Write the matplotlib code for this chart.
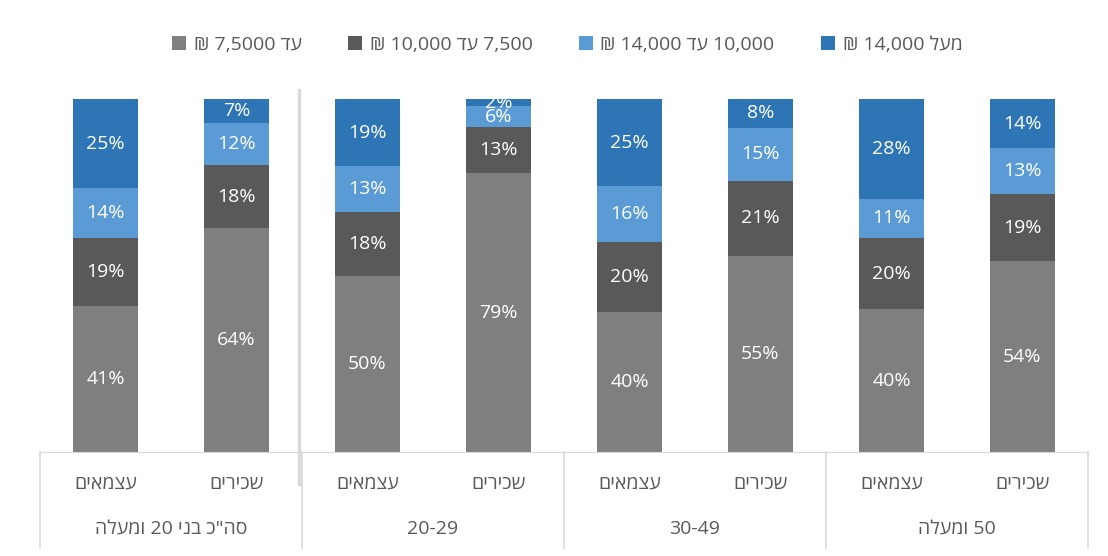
import numpy as np
import matplotlib
matplotlib.use("Agg")
import matplotlib.pyplot as plt
import matplotlib.transforms as mtransforms

plt.rcParams['font.family'] = ['Open Sans', 'DejaVu Sans']

# =============================================================================
# DATA  (Hebrew strings are stored in visual order, since matplotlib has no bidi)
# =============================================================================
sub_labels = ['םיאמצע', 'םיריכש'] * 4
group_labels = ['הלעמו 20 ינב כ"הס', '20-29', '30-49', 'הלעמו 50']
series_names = ['₪ 7,5000 דע', '₪ 10,000 דע 7,500', '₪ 14,000 דע 10,000', '₪ 14,000 לעמ']
series_colors = ['#7f7f7f', '#595959', '#5b9bd5', '#2e75b6']

upto_7500 = [41, 64, 50, 79, 40, 55, 40, 54]
r7500_10000 = [19, 18, 18, 13, 20, 21, 20, 19]
r10000_14000 = [14, 12, 13, 6, 16, 15, 11, 13]
over_14000 = [25, 7, 19, 2, 25, 8, 28, 14]

series = np.array([upto_7500, r7500_10000, r10000_14000, over_14000], dtype=float)
shares = series / series.sum(axis=0)  # 100% stacked

FS = 14

# =============================================================================
# PLOT
# =============================================================================
fig = plt.figure(figsize=(11.08, 5.56), dpi=100)
ax = fig.add_axes([40 / 1108, (556 - 452) / 556, 1048 / 1108, 353 / 556])

x = np.arange(len(sub_labels))
bottom = np.zeros(len(x))
for vals, pct, name, col in zip(shares, series, series_names, series_colors):
    ax.bar(x, vals, bottom=bottom, width=0.5, color=col, label=name)
    for xi, b, v, p in zip(x, bottom, vals, pct):
        ax.text(xi, b + v / 2, f'{p:.0f}%', ha='center', va='center',
                color='white', fontsize=FS)
    bottom += vals

ax.set_xlim(-0.5, 7.5)
ax.set_ylim(0, 1)
ax.set_xticks([])
ax.set_yticks([])
for s in ['top', 'right', 'left']:
    ax.spines[s].set_visible(False)
ax.spines['bottom'].set_color('#d9d9d9')

# category labels below the axis
trans = mtransforms.blended_transform_factory(ax.transData, fig.transFigure)
for xi, lab in zip(x, sub_labels):
    ax.text(xi, 1 - 484 / 556, lab, transform=trans, ha='center', va='center',
            color='#595959', fontsize=FS)
for g, lab in enumerate(group_labels):
    ax.text(2 * g + 0.5, 1 - 529 / 556, lab, transform=trans, ha='center',
            va='center', color='#595959', fontsize=FS)

# group separators
for sx in [-0.5, 1.5, 3.5, 5.5, 7.5]:
    ax.plot([sx, sx], [1 - 452 / 556, 1 - 548 / 556], transform=trans,
            color='#d9d9d9', lw=1.2, clip_on=False)
# line splitting the total from the age groups
ax.plot([1.48, 1.48], [1 - 90 / 556, 1 - 484 / 556], transform=trans,
        color='#d9d9d9', lw=2.5, clip_on=False)

fig.legend(loc='center', bbox_to_anchor=(0.512, 1 - 45 / 556), ncol=4,
           frameon=False, fontsize=FS, labelcolor='#595959',
           handlelength=0.7, handleheight=0.7, handletextpad=0.4,
           columnspacing=2.4)

fig.savefig('out.png', dpi=100)
